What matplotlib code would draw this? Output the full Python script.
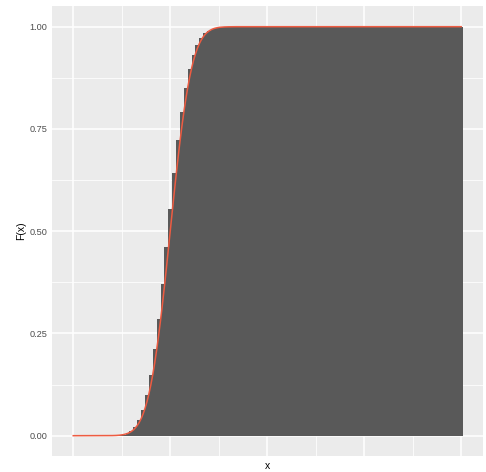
import matplotlib
matplotlib.use("Agg")
import matplotlib.pyplot as plt
from matplotlib.ticker import MultipleLocator

plt.rcParams['font.family'] = ['Liberation Sans', 'DejaVu Sans']

# Cumulative probabilities P(X <= k), k = 0..100
k_vals = list(range(0, 101))
cdf_bars = [
    0.0, 0.0, 0.0, 0.0, 0.0, 0.0, 0.0, 0.0, 0.0, 0.0,
    0.0001, 0.0004, 0.0010, 0.0025, 0.0054, 0.0111, 0.0211, 0.0376, 0.0630, 0.0995,
    0.1488, 0.2114, 0.2864, 0.3711, 0.4616, 0.5535, 0.6417, 0.7223, 0.7924, 0.8504,
    0.8962, 0.9306, 0.9554, 0.9724, 0.9836, 0.9906, 0.9948, 0.9972, 0.9986, 0.9993,
    0.9997, 0.9998, 0.9999, 0.9999, 1.0, 1.0, 1.0, 1.0, 1.0, 1.0,
    1.0, 1.0, 1.0, 1.0, 1.0, 1.0, 1.0, 1.0, 1.0, 1.0,
    1.0, 1.0, 1.0, 1.0, 1.0, 1.0, 1.0, 1.0, 1.0, 1.0,
    1.0, 1.0, 1.0, 1.0, 1.0, 1.0, 1.0, 1.0, 1.0, 1.0,
    1.0, 1.0, 1.0, 1.0, 1.0, 1.0, 1.0, 1.0, 1.0, 1.0,
    1.0, 1.0, 1.0, 1.0, 1.0, 1.0, 1.0, 1.0, 1.0, 1.0,
    1.0,
]

# Smooth approximating curve
curve_x = [0, 10, 11, 12, 12.5, 13, 13.5, 14, 14.5, 15, 15.5, 16, 16.5, 17, 17.5,
           18, 18.5, 19, 19.5, 20, 20.5, 21, 21.5, 22, 22.5, 23, 23.5, 24, 24.5,
           25, 25.5, 26, 26.5, 27, 27.5, 28, 28.5, 29, 29.5, 30, 30.5, 31, 31.5,
           32, 32.5, 33, 33.5, 34, 34.5, 35, 35.5, 36, 36.5, 37, 37.5, 38, 39,
           40, 42, 100]
curve_y = [0.0, 0.0003, 0.0006, 0.0013, 0.0020, 0.0028, 0.0040, 0.0055, 0.0077,
           0.0105, 0.0141, 0.0189, 0.0248, 0.0323, 0.0416, 0.0530, 0.0667, 0.0829,
           0.1020, 0.1241, 0.1494, 0.1778, 0.2095, 0.2442, 0.2819, 0.3221, 0.3646,
           0.4087, 0.4541, 0.5, 0.5459, 0.5913, 0.6354, 0.6779, 0.7181, 0.7558,
           0.7905, 0.8222, 0.8506, 0.8759, 0.8980, 0.9171, 0.9333, 0.9470, 0.9584,
           0.9677, 0.9752, 0.9812, 0.9859, 0.9895, 0.9923, 0.9945, 0.9961, 0.9972,
           0.9981, 0.9987, 0.9994, 0.9997, 0.99995, 1.0]

fig = plt.figure(figsize=(4.86, 4.72), dpi=100)
ax = fig.add_axes([0.1064, 0.0336, 0.8868, 0.9532])

ax.set_facecolor('#EBEBEB')
ax.bar(k_vals, cdf_bars, width=1.0, color='#595959', linewidth=0, zorder=2)
ax.plot(curve_x, curve_y, color='#EE5C42', linewidth=1.1, zorder=3)

# ggplot-like scales: 5% expansion around the data
xmin, xmax = -0.5, 100.5
xpad = (xmax - xmin) * 0.05
ax.set_xlim(xmin - xpad, xmax + xpad)
ax.set_ylim(-0.05, 1.05)

ax.xaxis.set_major_locator(MultipleLocator(25))
ax.xaxis.set_minor_locator(MultipleLocator(12.5))
ax.set_yticks([0, 0.25, 0.5, 0.75, 1.0])
ax.set_yticklabels(['0.00', '0.25', '0.50', '0.75', '1.00'])
ax.yaxis.set_minor_locator(MultipleLocator(0.125))

ax.grid(which='major', color='white', linewidth=1.1, zorder=0)
ax.grid(which='minor', color='white', linewidth=0.55, zorder=0)
ax.set_axisbelow(True)

ax.tick_params(axis='both', which='both', length=0)
ax.tick_params(axis='x', labelbottom=False)
ax.tick_params(axis='y', labelsize=6.6, labelcolor='#4D4D4D', pad=3)
for s in ax.spines.values():
    s.set_visible(False)

ax.set_xlabel('x', fontsize=7.5)
ax.xaxis.set_label_coords(0.5, -0.010)
ax.set_ylabel('F(x)', fontsize=7.5)
ax.yaxis.set_label_coords(-0.060, 0.5)

fig.savefig('out.png', dpi=100)
